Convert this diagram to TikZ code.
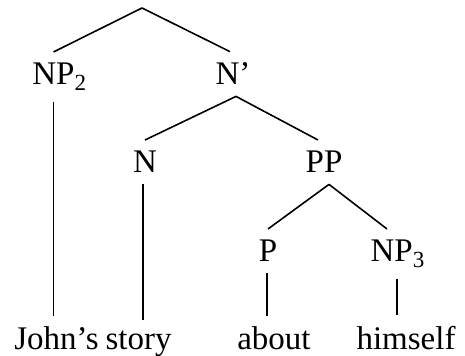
\documentclass[tikz,border=0pt]{standalone}
\usepackage{fontspec}
\setmainfont{Liberation Serif}
\usepackage{tikz}
\usetikzlibrary{positioning}

\begin{document}
\begin{tikzpicture}[x=0.5pt,y=-0.5pt,
    cat/.style={anchor=base,inner xsep=0pt,inner ysep=5.5pt,font=\fontsize{16.5}{20}\selectfont},
    edge/.style={line width=0.8pt}]
    \useasboundingbox (0,0) rectangle (465,356);

    % labels, by rows
    \coordinate (top) at (142,8);
    \node[cat] (np2) at (53.5,85) {NP\rlap{\textsubscript{2}}};
    \node[cat] (nbar) at (233,85) {N’};
    \node[cat] (n) at (145,173) {N};
    \node[cat] (pp) at (324,173) {PP};
    \node[cat] (p) at (268,262) {P};
    \node[cat] (np3) at (398,262) {NP\textsubscript{3}};
    \node[cat,anchor=base west] (johns) at (14,350) {John’s};
    \node[cat,base right=0.3em of johns] (story) {story};
    \node[cat] (about) at (274,350) {about};
    \node[cat] (himself) at (406,350) {himself};

    % branches
    \draw[edge] (top) -- (np2.north);
    \draw[edge] (top) -- ([xshift=-1.5pt]nbar.north);
    \draw[edge] ([xshift=1.5pt]nbar.south) -- (n.north);
    \draw[edge] ([xshift=1.5pt]nbar.south) -- ([xshift=-3pt]pp.north);
    \draw[edge] ([xshift=2.5pt]pp.south) -- (p.north);
    \draw[edge] ([xshift=2.5pt]pp.south) -- ([xshift=-5.5pt]np3.north);

    % down to the words
    \draw[edge] (np2.south) -- (np2.south |- johns.north);
    \draw[edge] ([xshift=-1pt]n.south) -- ([xshift=-1pt]n.south |- story.north);
    \draw[edge] ([xshift=-0.5pt]p.south) -- ([xshift=-0.5pt]p.south |- about.north);
    \draw[edge] ([xshift=-0.5pt]np3.south) -- ([xshift=-0.5pt]np3.south |- himself.north);
\end{tikzpicture}
\end{document}
